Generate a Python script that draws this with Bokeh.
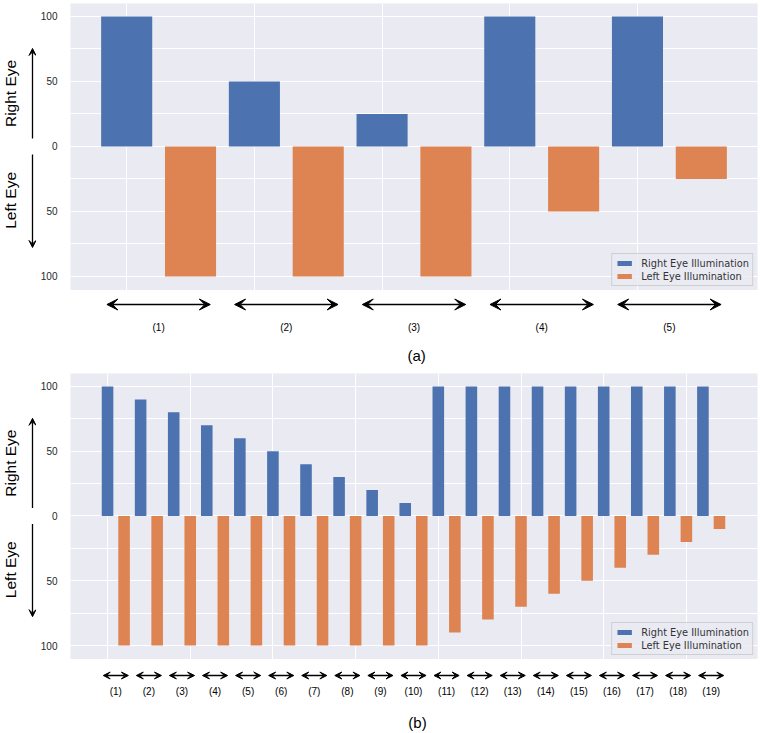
from bokeh.plotting import figure
from bokeh.models import Range1d, FixedTicker, Arrow, VeeHead, Label
from bokeh.layouts import column, row
from bokeh.embed import file_html
from bokeh.resources import INLINE

# ---------------- data ----------------
a_groups = ["(1)", "(2)", "(3)", "(4)", "(5)"]
a_right = [100, 50, 25, 100, 100]
a_left = [100, 100, 100, 50, 25]

b_groups = ["(%d)" % i for i in range(1, 20)]
b_right = [100, 90, 80, 70, 60, 50, 40, 30, 20, 10,
           100, 100, 100, 100, 100, 100, 100, 100, 100]
b_left = [100, 100, 100, 100, 100, 100, 100, 100, 100, 100,
          90, 80, 70, 60, 50, 40, 30, 20, 10]

y_tick_values = [100, 50, 0, -50, -100]
y_tick_labels = ["100", "50", "0", "50", "100"]
y_minor_values = [75, 25, -25, -75]

right_name = "Right Eye Illumination"
left_name = "Left Eye Illumination"

BLUE = "#4c72b0"
ORANGE = "#dd8452"
BG = "#eaeaf2"
TXT = "#262626"

W = 760
LW = 36          # width of the side-label strip
FL = 70          # frame left edge on page
BR = 3           # right border
Y0, Y1 = -110.8, 110


def aux_fig(width, height, xr, yr, **kw):
    f = figure(width=width, height=height, x_range=xr, y_range=yr,
               output_backend="svg", toolbar_location=None,
               x_axis_location=None, y_axis_location=None,
               min_border_left=kw.get("bl", 0), min_border_right=kw.get("br", 0),
               min_border_top=kw.get("bt", 0), min_border_bottom=0,
               background_fill_color="white", border_fill_color="white",
               outline_line_color=None)
    f.grid.visible = False
    return f


def panel(groups, right, left, bar_w, x0, x1, grid_x, top_b, frame_h, bottom_h,
          arrow_dy, arrow_half, head, label_dy, caption, caption_x, caption_dy):
    yr = Range1d(Y0, Y1)
    xr = Range1d(x0, x1)
    p = figure(width=W - LW, height=top_b + frame_h, x_range=xr, y_range=yr,
               output_backend="svg", toolbar_location=None,
               x_axis_location=None,
               min_border_left=FL - LW, min_border_right=BR, min_border_top=top_b,
               min_border_bottom=0,
               background_fill_color=BG, border_fill_color="white",
               outline_line_color=None)
    xs = list(range(len(groups)))
    p.vbar(x=xs, top=right, bottom=0, width=bar_w, fill_color=BLUE, line_color=None,
           legend_label=right_name)
    p.vbar(x=[x + 0.5 for x in xs], top=0, bottom=[-v for v in left], width=bar_w,
           fill_color=ORANGE, line_color=None, legend_label=left_name)

    # grids
    p.xgrid.ticker = FixedTicker(ticks=grid_x)
    p.xgrid.grid_line_color = "white"
    p.xgrid.grid_line_width = 1
    p.yaxis.ticker = FixedTicker(ticks=y_tick_values, minor_ticks=y_minor_values)
    p.yaxis.major_label_overrides = dict(zip(y_tick_values, y_tick_labels))
    p.ygrid.grid_line_color = "white"
    p.ygrid.grid_line_width = 1
    p.ygrid.minor_grid_line_color = "white"
    p.ygrid.minor_grid_line_width = 1
    p.yaxis.axis_line_color = None
    p.yaxis.major_tick_line_color = None
    p.yaxis.minor_tick_line_color = None
    p.yaxis.major_tick_out = 0
    p.yaxis.major_tick_in = 0
    p.yaxis.minor_tick_out = 0
    p.yaxis.minor_tick_in = 0
    p.yaxis.major_label_standoff = 13
    p.yaxis.major_label_text_font = "Liberation Sans"
    p.yaxis.major_label_text_font_size = "10px"
    p.yaxis.major_label_text_color = TXT

    # legend
    lg = p.legend[0]
    lg.location = "bottom_right"
    lg.margin = 4
    lg.padding = 3
    lg.spacing = 1
    lg.glyph_width = 18
    lg.glyph_height = 6
    lg.label_height = 12
    lg.label_standoff = 8
    lg.label_text_font = "DejaVu Sans"
    lg.label_text_font_size = "9.8px"
    lg.label_text_color = "#333333"
    lg.background_fill_color = BG
    lg.background_fill_alpha = 0.8
    lg.border_line_color = "#cccccc"
    lg.border_line_alpha = 0.9

    # side strip with eye labels
    s = aux_fig(LW, top_b + frame_h, Range1d(0, LW), yr, bt=top_b)
    ax = 32
    tx = 10
    s.add_layout(Arrow(end=VeeHead(size=7, fill_color="black", line_color="black"),
                       x_start=ax, y_start=6.2, x_end=ax, y_end=75.4,
                       line_color="black", line_width=1.3))
    s.add_layout(Arrow(end=VeeHead(size=7, fill_color="black", line_color="black"),
                       x_start=ax, y_start=-6.2, x_end=ax, y_end=-77.7,
                       line_color="black", line_width=1.3))
    s.add_layout(Label(x=tx, y=40.8, text="Right Eye", angle=1.5708,
                       text_align="center", text_baseline="middle",
                       text_font="Liberation Sans", text_font_size="15.5px",
                       text_color="black"))
    s.add_layout(Label(x=tx, y=-41.5, text="Left Eye", angle=1.5708,
                       text_align="center", text_baseline="middle",
                       text_font="Liberation Sans", text_font_size="15.5px",
                       text_color="black"))

    # bottom strip with group arrows, group labels and caption
    b = aux_fig(W, bottom_h, xr, Range1d(-bottom_h, 0), bl=FL, br=BR)
    for i, g in enumerate(groups):
        c = i + 0.25
        b.add_layout(Arrow(start=VeeHead(size=head, fill_color="black", line_color="black"),
                           end=VeeHead(size=head, fill_color="black", line_color="black"),
                           x_start=c - arrow_half, y_start=-arrow_dy,
                           x_end=c + arrow_half, y_end=-arrow_dy,
                           line_color="black", line_width=1.5))
        b.add_layout(Label(x=c, y=-label_dy, text=g, text_align="center",
                           text_baseline="middle", text_font="Liberation Sans",
                           text_font_size="10px", text_color="black"))
    b.add_layout(Label(x=caption_x, y=-caption_dy, text=caption, text_align="center",
                       text_baseline="middle", text_font="Liberation Sans",
                       text_font_size="15px", text_color="black"))
    return column(row(s, p, spacing=0), b, spacing=0)


pa = panel(a_groups, a_right, a_left, 0.4, -0.44, 4.94, [0, 1, 2, 3, 4],
           3, 287, 76, 14, 0.405, 11, 37, "(a)", 2.27, 65)
pb = panel(b_groups, b_right, b_left, 0.35, -1.12, 19.65,
           [0, 2.5, 5, 7.5, 10, 12.5, 15, 17.5],
           7, 286, 73, 16, 0.38, 7, 32, "(b)", 9.37, 63)

layout = column(pa, pb, spacing=0)
open("out.html", "w").write(file_html(layout, INLINE))
